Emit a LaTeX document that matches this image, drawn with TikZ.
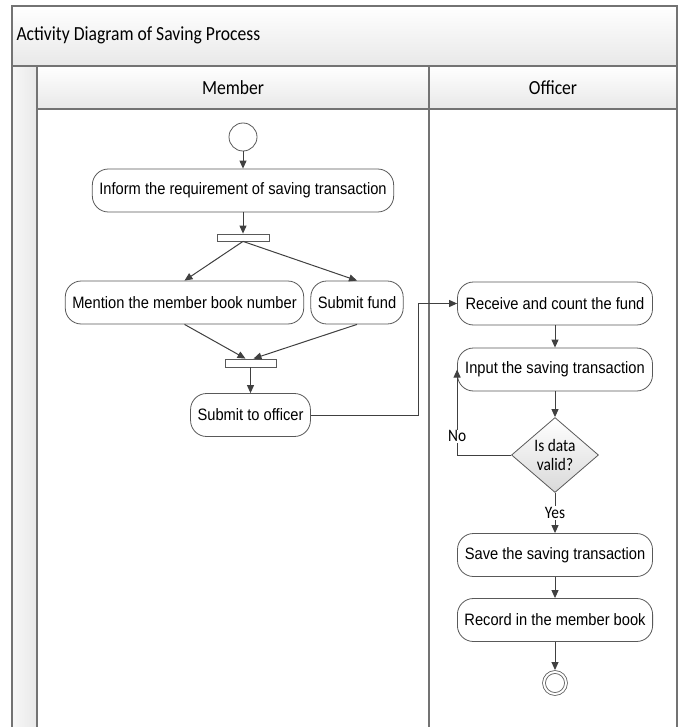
\documentclass[tikz,border=0pt]{standalone}
\usepackage{fontspec}
\setmainfont[FakeStretch=0.88]{Carlito}
\newfontfamily\actfont[FakeStretch=0.89]{Liberation Sans}
\usetikzlibrary{arrows.meta,shapes.geometric}

\tikzset{
  lane/.style={draw=black!55, line width=1.2pt},
  action/.style={draw=black!65, line width=0.8pt, rounded corners=16pt,
    minimum height=43pt, inner xsep=7pt, inner ysep=0pt,
    font=\actfont\fontsize{16.5}{18}\selectfont},
  offaction/.style={action, minimum width=195pt},
  bar/.style={draw=black!65, line width=0.8pt, fill=white,
    minimum width=52pt, minimum height=7pt, inner sep=0pt},
  flow/.style={draw=black!75, line width=1pt, -{Triangle[length=8pt,width=7pt]}},
  guard/.style={fill=white, inner sep=1pt, font=\fontsize{17.5}{19}\selectfont},
}

\begin{document}
\begin{tikzpicture}[x=1pt,y=-1pt]
  \useasboundingbox (0,0) rectangle (683,727);

  % title band and headers
  \shade[top color=white, bottom color=black!9] (12,6) rectangle (677,66);
  \shade[top color=white, bottom color=black!9] (37,66) rectangle (677,109);
  \shade[left color=white!97!black, right color=black!9] (12,66) rectangle (37,727);
  \draw[lane] (12,727) -- (12,6) -- (677,6) -- (677,727);
  \draw[lane] (12,66) -- (677,66);
  \draw[lane] (37,109) -- (677,109);
  \draw[lane] (37,66) -- (37,727);
  \draw[lane] (429,66) -- (429,727);

  \node[anchor=west, font=\fontsize{20}{22}\selectfont] (title) at (13,35)
    {Activity Diagram of Saving Process};
  \node[font=\fontsize{20}{22}\selectfont] (member) at (233,88) {Member};
  \node[font=\fontsize{20}{22}\selectfont] (officer) at (553,88) {Officer};

  % member lane
  \node[circle, draw=black!65, line width=0.8pt, minimum size=28pt, inner sep=0pt]
    (start) at (243,137) {};
  \node[action] (inform) at (243,190.5) {Inform the requirement of saving transaction};
  \node[bar] (fork) at (243,237.5) {};
  \node[action] (mention) at (184.5,302.5) {Mention the member book number};
  \node[action] (fund) at (357,302.5) {Submit fund};
  \node[bar, minimum width=51pt, minimum height=8pt] (join) at (250.5,363) {};
  \node[action] (submit) at (250.5,415) {Submit to officer};

  % officer lane
  \node[offaction] (receive) at (555,303.5) {Receive and count the fund};
  \node[offaction] (input) at (555,369.5) {Input the saving transaction};
  \node[diamond, draw=black!65, line width=0.8pt, top color=white, bottom color=black!15,
    minimum width=87pt, minimum height=75pt, inner sep=0pt, align=center,
    font=\fontsize{17.5}{19}\selectfont] (dia) at (555,455) {Is data\\valid?};
  \node[offaction] (save) at (555,555) {Save the saving transaction};
  \node[offaction] (record) at (555,620) {Record in the member book};
  \node[circle, draw=black!65, line width=0.8pt, double, double distance=2pt,
    minimum size=22pt, inner sep=0pt, outer sep=2pt] (end) at (555,683) {};

  % flows
  \foreach \a/\b in {start/inform, inform/fork, join/submit, receive/input,
                     input/dia, save/record, record/end}
    \draw[flow] (\a) -- (\b);

  \draw[flow] (fork.south) -- (mention.north);
  \draw[flow] (fork.south) -- (fund.north);
  \draw[flow] (mention.south) -- ([xshift=-5pt]join.north);
  \draw[flow] (fund.south) -- ([xshift=3pt]join.north);

  \coordinate (bend) at (418,0);
  \draw[flow] (submit.east) -| (bend |- receive.west) -- (receive.west);

  \draw[flow] (dia) -- node[guard] {Yes} (save);
  \draw[flow] (dia.west) -| node[guard, pos=0.61] {No} (input.west);
\end{tikzpicture}
\end{document}
